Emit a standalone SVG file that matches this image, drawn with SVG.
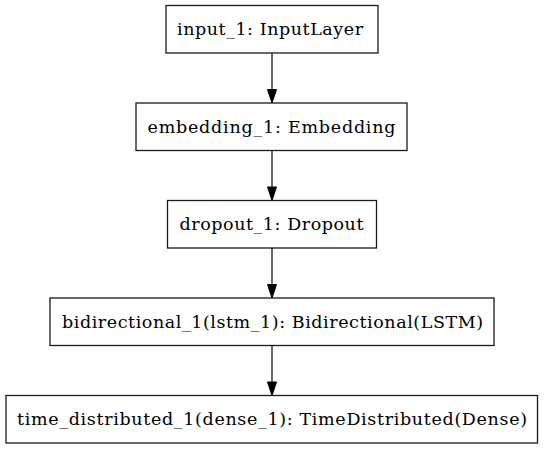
<svg xmlns="http://www.w3.org/2000/svg" width="544" height="449" viewBox="0 0 544 449">
  <style>
    .node rect { fill: #ffffff; stroke: #1a1a1a; stroke-width: 1.3; }
    .node text { font-family: "DejaVu Serif", "Liberation Serif", serif; font-size: 17.5px; fill: #000000; text-anchor: middle; }
    .edge line { stroke: #1a1a1a; stroke-width: 1.3; }
    .edge polygon { fill: #000000; stroke: #000000; stroke-width: 1; }
  </style>
  <rect width="544" height="449" fill="#ffffff"/>
  <!-- layer-to-layer edges, each a shaft plus a filled arrowhead -->
  <g id="connectors" class="edge">
    <line x1="272" y1="53" x2="272" y2="90"/>
    <polygon points="267.5,89.5 276.5,89.5 272,103"/>
    <line x1="272" y1="150.5" x2="272" y2="187.5"/>
    <polygon points="267.5,187 276.5,187 272,200.5"/>
    <line x1="272" y1="248" x2="272" y2="285"/>
    <polygon points="267.5,284.5 276.5,284.5 272,298"/>
    <line x1="272" y1="345.5" x2="272" y2="382.5"/>
    <polygon points="267.5,382 276.5,382 272,395.5"/>
  </g>
  <g id="input_1" class="node">
    <rect x="166" y="5.5" width="212" height="47.5"/>
    <text x="270" y="35" textLength="186">input_1: InputLayer</text>
  </g>
  <g id="embedding_1" class="node">
    <rect x="136" y="103" width="271" height="47.5"/>
    <text x="271.5" y="132.5" textLength="248">embedding_1: Embedding</text>
  </g>
  <g id="dropout_1" class="node">
    <rect x="167.5" y="200.5" width="209" height="47.5"/>
    <text x="271.5" y="230" textLength="184">dropout_1: Dropout</text>
  </g>
  <g id="bidirectional_1" class="node">
    <rect x="50" y="298" width="444" height="47.5"/>
    <text x="272.5" y="327.5" textLength="421">bidirectional_1(lstm_1): Bidirectional(LSTM)</text>
  </g>
  <g id="time_distributed_1" class="node">
    <rect x="6" y="395.5" width="531.5" height="47.5"/>
    <text x="272" y="425" textLength="510">time_distributed_1(dense_1): TimeDistributed(Dense)</text>
  </g>
</svg>
